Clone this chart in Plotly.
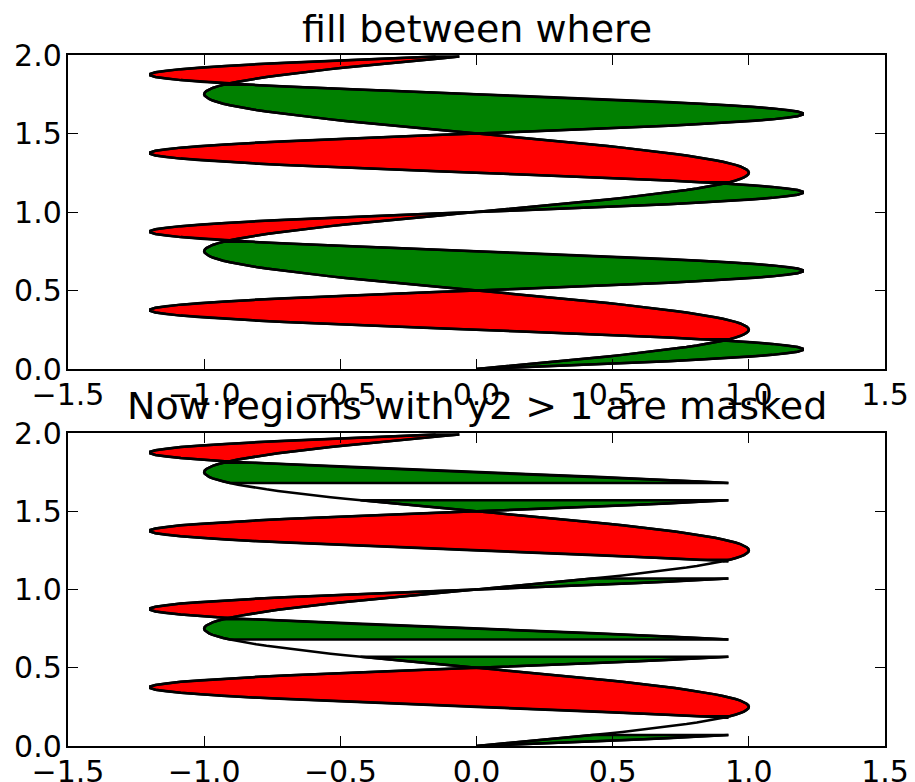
import plotly.graph_objects as go

# ---------------- data ----------------
y = [0.0, 0.01, 0.02, 0.03, 0.04, 0.05, 0.06, 0.07, 0.08, 0.09,
     0.1, 0.11, 0.12, 0.13, 0.14, 0.15, 0.16, 0.17, 0.18, 0.19,
     0.2, 0.21, 0.22, 0.23, 0.24, 0.25, 0.26, 0.27, 0.28, 0.29,
     0.3, 0.31, 0.32, 0.33, 0.34, 0.35, 0.36, 0.37, 0.38, 0.39,
     0.4, 0.41, 0.42, 0.43, 0.44, 0.45, 0.46, 0.47, 0.48, 0.49,
     0.5, 0.51, 0.52, 0.53, 0.54, 0.55, 0.56, 0.57, 0.58, 0.59,
     0.6, 0.61, 0.62, 0.63, 0.64, 0.65, 0.66, 0.67, 0.68, 0.69,
     0.7, 0.71, 0.72, 0.73, 0.74, 0.75, 0.76, 0.77, 0.78, 0.79,
     0.8, 0.81, 0.82, 0.83, 0.84, 0.85, 0.86, 0.87, 0.88, 0.89,
     0.9, 0.91, 0.92, 0.93, 0.94, 0.95, 0.96, 0.97, 0.98, 0.99,
     1.0, 1.01, 1.02, 1.03, 1.04, 1.05, 1.06, 1.07, 1.08, 1.09,
     1.1, 1.11, 1.12, 1.13, 1.14, 1.15, 1.16, 1.17, 1.18, 1.19,
     1.2, 1.21, 1.22, 1.23, 1.24, 1.25, 1.26, 1.27, 1.28, 1.29,
     1.3, 1.31, 1.32, 1.33, 1.34, 1.35, 1.36, 1.37, 1.38, 1.39,
     1.4, 1.41, 1.42, 1.43, 1.44, 1.45, 1.46, 1.47, 1.48, 1.49,
     1.5, 1.51, 1.52, 1.53, 1.54, 1.55, 1.56, 1.57, 1.58, 1.59,
     1.6, 1.61, 1.62, 1.63, 1.64, 1.65, 1.66, 1.67, 1.68, 1.69,
     1.7, 1.71, 1.72, 1.73, 1.74, 1.75, 1.76, 1.77, 1.78, 1.79,
     1.8, 1.81, 1.82, 1.83, 1.84, 1.85, 1.86, 1.87, 1.88, 1.89,
     1.9, 1.91, 1.92, 1.93, 1.94, 1.95, 1.96, 1.97, 1.98, 1.99]

x1 = [0.0, 0.063, 0.125, 0.187, 0.249, 0.309, 0.368, 0.426, 0.482, 0.536,
      0.588, 0.637, 0.685, 0.729, 0.771, 0.809, 0.844, 0.876, 0.905, 0.93,
      0.951, 0.969, 0.982, 0.992, 0.998, 1.0, 0.998, 0.992, 0.982, 0.969,
      0.951, 0.93, 0.905, 0.876, 0.844, 0.809, 0.771, 0.729, 0.685, 0.637,
      0.588, 0.536, 0.482, 0.426, 0.368, 0.309, 0.249, 0.187, 0.125, 0.063,
      0.0, -0.063, -0.125, -0.187, -0.249, -0.309, -0.368, -0.426, -0.482, -0.536,
      -0.588, -0.637, -0.685, -0.729, -0.771, -0.809, -0.844, -0.876, -0.905, -0.93,
      -0.951, -0.969, -0.982, -0.992, -0.998, -1.0, -0.998, -0.992, -0.982, -0.969,
      -0.951, -0.93, -0.905, -0.876, -0.844, -0.809, -0.771, -0.729, -0.685, -0.637,
      -0.588, -0.536, -0.482, -0.426, -0.368, -0.309, -0.249, -0.187, -0.125, -0.063,
      0.0, 0.063, 0.125, 0.187, 0.249, 0.309, 0.368, 0.426, 0.482, 0.536,
      0.588, 0.637, 0.685, 0.729, 0.771, 0.809, 0.844, 0.876, 0.905, 0.93,
      0.951, 0.969, 0.982, 0.992, 0.998, 1.0, 0.998, 0.992, 0.982, 0.969,
      0.951, 0.93, 0.905, 0.876, 0.844, 0.809, 0.771, 0.729, 0.685, 0.637,
      0.588, 0.536, 0.482, 0.426, 0.368, 0.309, 0.249, 0.187, 0.125, 0.063,
      0.0, -0.063, -0.125, -0.187, -0.249, -0.309, -0.368, -0.426, -0.482, -0.536,
      -0.588, -0.637, -0.685, -0.729, -0.771, -0.809, -0.844, -0.876, -0.905, -0.93,
      -0.951, -0.969, -0.982, -0.992, -0.998, -1.0, -0.998, -0.992, -0.982, -0.969,
      -0.951, -0.93, -0.905, -0.876, -0.844, -0.809, -0.771, -0.729, -0.685, -0.637,
      -0.588, -0.536, -0.482, -0.426, -0.368, -0.309, -0.249, -0.187, -0.125, -0.063]

x2 = [0.0, 0.15, 0.298, 0.442, 0.578, 0.705, 0.821, 0.925, 1.013, 1.086,
      1.141, 1.179, 1.198, 1.198, 1.179, 1.141, 1.086, 1.013, 0.925, 0.821,
      0.705, 0.578, 0.442, 0.298, 0.15, 0.0, -0.15, -0.298, -0.442, -0.578,
      -0.705, -0.821, -0.925, -1.013, -1.086, -1.141, -1.179, -1.198, -1.198, -1.179,
      -1.141, -1.086, -1.013, -0.925, -0.821, -0.705, -0.578, -0.442, -0.298, -0.15,
      0.0, 0.15, 0.298, 0.442, 0.578, 0.705, 0.821, 0.925, 1.013, 1.086,
      1.141, 1.179, 1.198, 1.198, 1.179, 1.141, 1.086, 1.013, 0.925, 0.821,
      0.705, 0.578, 0.442, 0.298, 0.15, 0.0, -0.15, -0.298, -0.442, -0.578,
      -0.705, -0.821, -0.925, -1.013, -1.086, -1.141, -1.179, -1.198, -1.198, -1.179,
      -1.141, -1.086, -1.013, -0.925, -0.821, -0.705, -0.578, -0.442, -0.298, -0.15,
      0.0, 0.15, 0.298, 0.442, 0.578, 0.705, 0.821, 0.925, 1.013, 1.086,
      1.141, 1.179, 1.198, 1.198, 1.179, 1.141, 1.086, 1.013, 0.925, 0.821,
      0.705, 0.578, 0.442, 0.298, 0.15, 0.0, -0.15, -0.298, -0.442, -0.578,
      -0.705, -0.821, -0.925, -1.013, -1.086, -1.141, -1.179, -1.198, -1.198, -1.179,
      -1.141, -1.086, -1.013, -0.925, -0.821, -0.705, -0.578, -0.442, -0.298, -0.15,
      0.0, 0.15, 0.298, 0.442, 0.578, 0.705, 0.821, 0.925, 1.013, 1.086,
      1.141, 1.179, 1.198, 1.198, 1.179, 1.141, 1.086, 1.013, 0.925, 0.821,
      0.705, 0.578, 0.442, 0.298, 0.15, 0.0, -0.15, -0.298, -0.442, -0.578,
      -0.705, -0.821, -0.925, -1.013, -1.086, -1.141, -1.179, -1.198, -1.198, -1.179,
      -1.141, -1.086, -1.013, -0.925, -0.821, -0.705, -0.578, -0.442, -0.298, -0.15]

mask_limit = 1.0
titles = ["fill between where", "Now regions with y2 &gt; 1 are masked"]
x_ticks = [-1.5, -1.0, -0.5, 0.0, 0.5, 1.0, 1.5]
y_ticks = [0.0, 0.5, 1.0, 1.5, 2.0]

# ---------------- helpers ----------------
def runs(flags):
    out, start = [], None
    for i, f in enumerate(flags):
        if f and start is None:
            start = i
        elif not f and start is not None:
            out.append((start, i))
            start = None
    if start is not None:
        out.append((start, len(flags)))
    return out


def polygons(yv, a, b, where):
    polys = []
    for i0, i1 in runs(where):
        ys, xa, xb = yv[i0:i1], a[i0:i1], b[i0:i1]
        px = [xb[0]] + xa + [xb[-1]] + xb[::-1]
        py = [ys[0]] + ys + [ys[-1]] + ys[::-1]
        px.append(px[0])
        py.append(py[0])
        polys.append((px, py))
    return polys


# page offset: the browser adds an 8px body margin
OFF = 8
W, H = 915, 782
# plot-area edges in page pixels
L_PX, R_PX, T_PX, B_PX = 68, 885, 55, 746
ML, MT = L_PX - OFF, T_PX - OFF
MR = W - (R_PX - OFF)
MB = H - (B_PX - OFF)
PH = B_PX - T_PX


def py2paper(p):
    return (B_PX - p) / PH


top_dom = [py2paper(369), 1.0]
bot_dom = [0.0, py2paper(433)]

GREEN, RED = "#008000", "#ff0000"
EDGE = 2.5
FONT = "DejaVu Sans"

fig = go.Figure()


def add_panel(x2v, xa, ya):
    valid = [v is not None for v in x2v]
    x2f = [v if v is not None else 0 for v in x2v]
    g = [ok and (b >= a) for ok, a, b in zip(valid, x1, x2f)]
    r = [ok and (b <= a) for ok, a, b in zip(valid, x1, x2f)]
    for where, col in ((g, GREEN), (r, RED)):
        for px, pyy in polygons(y, x1, x2v, where):
            fig.add_trace(go.Scatter(x=px, y=pyy, mode="lines", fill="toself",
                                     fillcolor=col, line=dict(color="black", width=EDGE),
                                     xaxis=xa, yaxis=ya, hoverinfo="skip",
                                     showlegend=False))
    fig.add_trace(go.Scatter(x=x1, y=y, mode="lines", line=dict(color="black", width=EDGE),
                             xaxis=xa, yaxis=ya, showlegend=False))
    fig.add_trace(go.Scatter(x=x2v, y=y, mode="lines", connectgaps=False,
                             line=dict(color="black", width=EDGE),
                             xaxis=xa, yaxis=ya, showlegend=False))


add_panel(list(x2), "x", "y")
x2_masked = [v if v <= mask_limit else None for v in x2]
add_panel(x2_masked, "x2", "y2")

axis_common = dict(showline=True, linecolor="black", linewidth=2.4, mirror="allticks",
                   ticks="inside", ticklen=10, tickwidth=1.3, tickcolor="black",
                   showgrid=False, zeroline=False, automargin=False,
                   tickfont=dict(family=FONT, size=30, color="black"))

fig.update_layout(
    width=W, height=H,
    margin=dict(l=ML, r=MR, t=MT, b=MB),
    paper_bgcolor="white", plot_bgcolor="white",
    showlegend=False,
    xaxis=dict(domain=[0, 1], range=[-1.5, 1.5], tickvals=x_ticks, tickformat=".1f",
               anchor="y", ticklabelstandoff=-2, **axis_common),
    yaxis=dict(domain=top_dom, range=[0, 2], tickvals=y_ticks, tickformat=".1f",
               anchor="x", ticklabelstandoff=-2, **axis_common),
    xaxis2=dict(domain=[0, 1], range=[-1.5, 1.5], tickvals=x_ticks, tickformat=".1f",
                anchor="y2", ticklabelstandoff=-2, **axis_common),
    yaxis2=dict(domain=bot_dom, range=[0, 2], tickvals=y_ticks, tickformat=".1f",
                anchor="x2", ticklabelstandoff=-2, **axis_common),
    annotations=[
        dict(text=titles[0], xref="paper", yref="paper", x=0.5, y=py2paper(53),
             xanchor="center", yanchor="bottom", showarrow=False,
             font=dict(family=FONT, size=38, color="black")),
        dict(text=titles[1], xref="paper", yref="paper", x=0.5, y=py2paper(430),
             xanchor="center", yanchor="bottom", showarrow=False,
             font=dict(family=FONT, size=38, color="black")),
    ],
)

fig.write_html("out.html")
